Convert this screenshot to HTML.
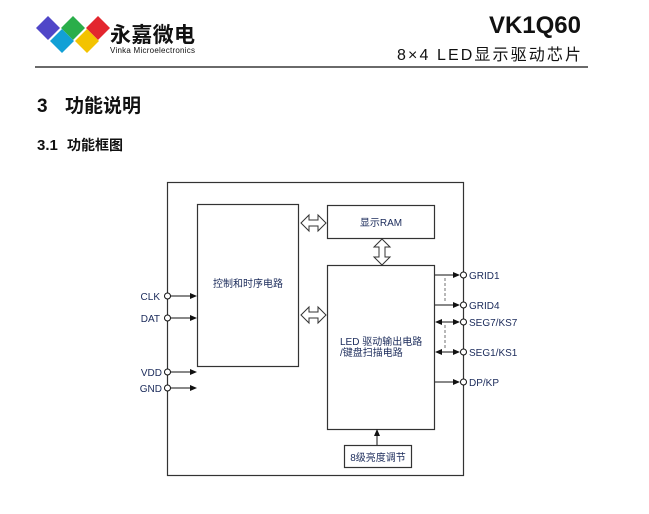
<!DOCTYPE html>
<html><head><meta charset="utf-8"><style>
html,body{margin:0;padding:0;background:#fff;}
body{width:649px;height:509px;overflow:hidden;}
svg text{font-family:"Liberation Sans","Noto Sans CJK SC",sans-serif;}
</style></head><body>
<svg width="649" height="509" viewBox="0 0 649 509" xmlns="http://www.w3.org/2000/svg">
<!-- logo -->
<polygon points="48,16 60,28 48,40 36,28" fill="#5046c8"/>
<polygon points="73,16 85,28 73,40 61,28" fill="#2aae4a"/>
<polygon points="98,16 110,28 98,40 86,28" fill="#e3262e"/>
<polygon points="62,29 74,41 62,53 50,41" fill="#12a0d6"/>
<polygon points="87,29 99,41 87,53 75,41" fill="#f3c300"/>
<text x="110" y="42" font-size="21" font-weight="bold" fill="#111" textLength="85">永嘉微电</text>
<text x="110" y="53" font-size="8" fill="#111" textLength="85">Vinka Microelectronics</text>
<text x="581" y="33" font-size="24" font-weight="bold" fill="#111" text-anchor="end">VK1Q60</text>
<text x="581" y="60" font-size="16" fill="#111" text-anchor="end" textLength="184">8×4  LED显示驱动芯片</text>
<line x1="35" y1="67" x2="588" y2="67" stroke="#111" stroke-width="1.2"/>
<text x="37" y="112" font-size="19" font-weight="bold" fill="#111">3</text>
<text x="65" y="112" font-size="19" font-weight="bold" fill="#111">功能说明</text>
<text x="37" y="150" font-size="15" font-weight="bold" fill="#111">3.1</text>
<text x="67" y="150" font-size="14" font-weight="bold" fill="#111">功能框图</text>
<!-- diagram -->
<g stroke="#333" fill="none" stroke-width="1.2">
<rect x="167.5" y="182.5" width="296" height="293"/>
<rect x="197.5" y="204.5" width="101" height="162"/>
<rect x="327.5" y="205.5" width="107" height="33"/>
<rect x="327.5" y="265.5" width="107" height="164"/>
<rect x="344.5" y="445.5" width="67" height="22"/>
</g>
<g fill="#fff" stroke="#333" stroke-width="1">
<polygon points="301,223 309,215 309,220 318,220 318,215 326,223 318,231 318,226 309,226 309,231"/>
<polygon points="301,315 309,307 309,312 318,312 318,307 326,315 318,323 318,318 309,318 309,323"/>
<polygon points="382,239 390,247 385,247 385,257 390,257 382,265 374,257 379,257 379,247 374,247"/>
</g>
<g font-size="10" fill="#1a2a5a">
<text x="248" y="287" text-anchor="middle" font-size="10">控制和时序电路</text>
<text x="381" y="226" text-anchor="middle">显示RAM</text>
<text x="340" y="345">LED 驱动输出电路</text>
<text x="340" y="356">/键盘扫描电路</text>
<text x="378" y="461" text-anchor="middle">8级亮度调节</text>
</g>
<!-- arrows -->
<g stroke="#111" stroke-width="1">
<line x1="377" y1="430" x2="377" y2="445"/>
<line x1="170" y1="296" x2="192" y2="296"/>
<line x1="170" y1="318" x2="192" y2="318"/>
<line x1="170" y1="372" x2="192" y2="372"/>
<line x1="170" y1="388" x2="192" y2="388"/>
<line x1="435" y1="275" x2="456" y2="275"/>
<line x1="435" y1="305" x2="456" y2="305"/>
<line x1="440" y1="322" x2="456" y2="322"/>
<line x1="440" y1="352" x2="456" y2="352"/>
<line x1="435" y1="382" x2="456" y2="382"/>
</g>
<g stroke="#888" stroke-width="1.2" stroke-dasharray="3,2">
<line x1="445" y1="278" x2="445" y2="302"/>
<line x1="445" y1="325" x2="445" y2="350"/>
</g>
<g fill="#111">
<polygon points="377,429 374,436 380,436"/>
<polygon points="197,296 190,293 190,299"/>
<polygon points="197,318 190,315 190,321"/>
<polygon points="197,372 190,369 190,375"/>
<polygon points="197,388 190,385 190,391"/>
<polygon points="460,275 453,272 453,278"/>
<polygon points="460,305 453,302 453,308"/>
<polygon points="460,322 453,319 453,325"/>
<polygon points="460,352 453,349 453,355"/>
<polygon points="460,382 453,379 453,385"/>
<polygon points="435,322 442,319 442,325"/>
<polygon points="435,352 442,349 442,355"/>
</g>
<g fill="#fff" stroke="#111" stroke-width="1">
<circle cx="167.5" cy="296" r="3"/><circle cx="167.5" cy="318" r="3"/>
<circle cx="167.5" cy="372" r="3"/><circle cx="167.5" cy="388" r="3"/>
<circle cx="463.5" cy="275" r="3"/><circle cx="463.5" cy="305" r="3"/>
<circle cx="463.5" cy="322" r="3"/><circle cx="463.5" cy="352" r="3"/>
<circle cx="463.5" cy="382" r="3"/>
</g>
<g font-size="10" fill="#1a2a5a">
<text x="160" y="300" text-anchor="end">CLK</text>
<text x="160" y="322" text-anchor="end">DAT</text>
<text x="162" y="376" text-anchor="end">VDD</text>
<text x="162" y="392" text-anchor="end">GND</text>
<text x="469" y="279">GRID1</text>
<text x="469" y="309">GRID4</text>
<text x="469" y="326">SEG7/KS7</text>
<text x="469" y="356">SEG1/KS1</text>
<text x="469" y="386">DP/KP</text>
</g>
</svg>
</body></html>
